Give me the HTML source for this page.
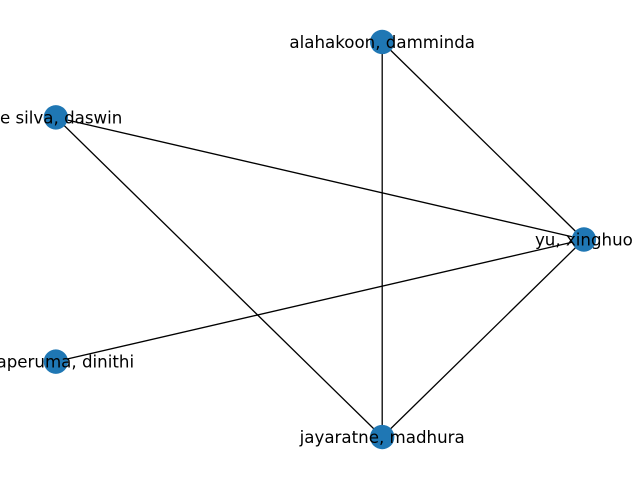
<!DOCTYPE html>
<html><head><meta charset="utf-8"><style>
html,body{margin:0;padding:0;background:#fff;}
svg{display:block;}
text{font-family:"DejaVu Sans","Liberation Sans",sans-serif;font-size:16.67px;fill:#000;}
</style></head><body>
<svg id="chart" width="640" height="480" viewBox="0 0 640 480">
<g id="edges"></g>
<g id="nodes"></g>
<g id="labels"></g>
</svg>
<script>
const nodeNames = ["yu, xinghuo","alahakoon, damminda","de silva, daswin","kilaperuma, dinithi","jayaratne, madhura"];
const nodeX = [1.0, 0.309, -0.809, -0.809, 0.309];
const nodeY = [0.0, 0.951, 0.588, -0.588, -0.951];
const edgeSource = [1, 1, 2, 2, 3, 0];
const edgeTarget = [0, 4, 0, 4, 0, 4];

const sx = v => 292 + v * 291.9;
const sy = v => 239.5 - v * 207.7;
const NS = "http://www.w3.org/2000/svg";
const eg = document.getElementById('edges'), ng = document.getElementById('nodes'), lg = document.getElementById('labels');
for (let i = 0; i < edgeSource.length; i++) {
  const a = edgeSource[i], b = edgeTarget[i];
  const l = document.createElementNS(NS, 'line');
  l.setAttribute('x1', sx(nodeX[a])); l.setAttribute('y1', sy(nodeY[a]));
  l.setAttribute('x2', sx(nodeX[b])); l.setAttribute('y2', sy(nodeY[b]));
  l.setAttribute('stroke', '#000'); l.setAttribute('stroke-width', '1.3');
  
  
  eg.appendChild(l);
}
for (let i = 0; i < nodeNames.length; i++) {
  const c = document.createElementNS(NS, 'circle');
  c.setAttribute('cx', sx(nodeX[i])); c.setAttribute('cy', sy(nodeY[i]));
  c.setAttribute('r', 12.2); c.setAttribute('fill', '#1f77b4');
  
  
  ng.appendChild(c);
  const t = document.createElementNS(NS, 'text');
  t.setAttribute('x', sx(nodeX[i])); t.setAttribute('y', sy(nodeY[i]) + 6);
  t.setAttribute('text-anchor', 'middle');
  t.textContent = nodeNames[i];
  
  
  lg.appendChild(t);
}
</script>
</body></html>
